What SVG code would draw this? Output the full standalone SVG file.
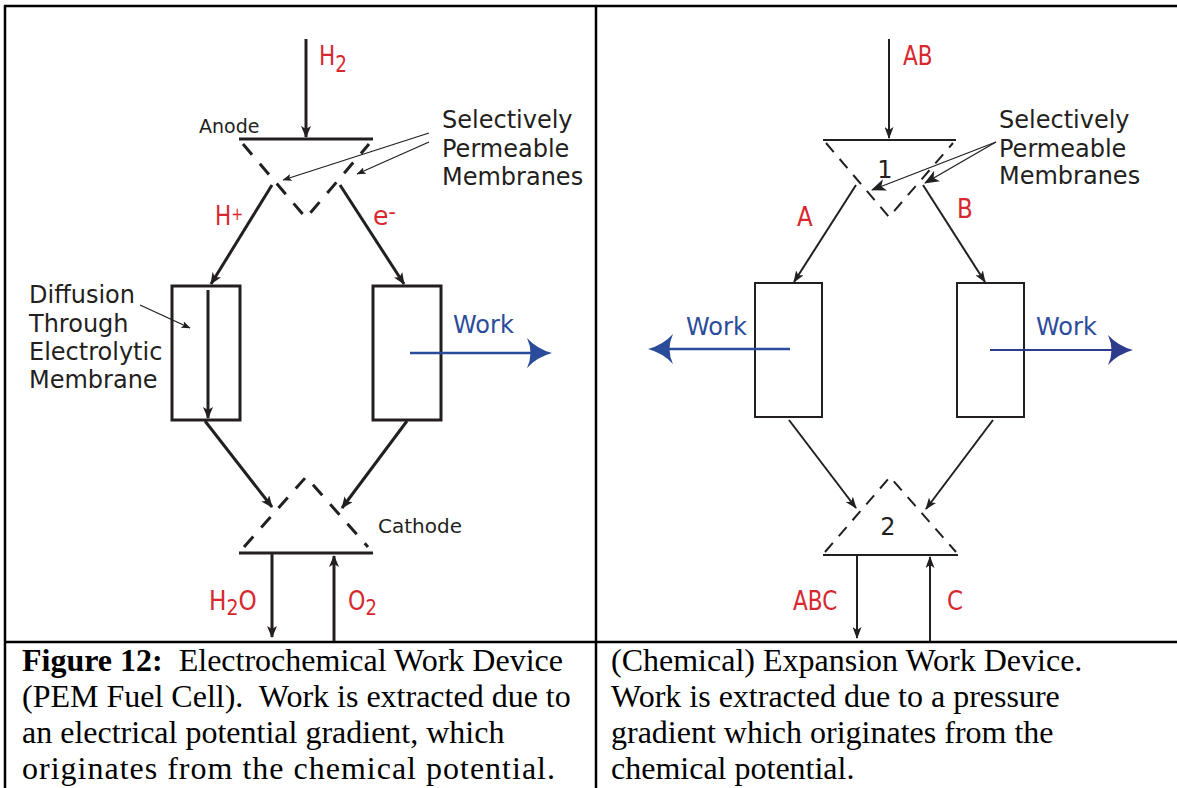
<svg xmlns="http://www.w3.org/2000/svg" width="1177" height="788" viewBox="0 0 1177 788">
<style>
.frame{fill:none;stroke:#000;stroke-width:2.5}
.thk{stroke:#231f20;stroke-width:3;fill:none}
.thn{stroke:#231f20;stroke-width:2;fill:none}
.ptr{stroke:#231f20;stroke-width:1.3;fill:none}
.dashL{stroke:#231f20;stroke-width:3;fill:none;stroke-dasharray:14 12}
.dashR{stroke:#231f20;stroke-width:2;fill:none;stroke-dasharray:12 9}
.wk{stroke:#2b4c9b;stroke-width:2.5;fill:none}
.wk2{stroke:#2e3a8c;stroke-width:2;fill:none}
.lbl{font-family:"DejaVu Sans",sans-serif;fill:#231f20}
.red{font-family:"DejaVu Sans",sans-serif;fill:#d7282f;font-size:27px}
.blue{font-family:"DejaVu Sans",sans-serif;fill:#2b4c9b;font-size:24px}
.cap{font-family:"Liberation Serif","Times New Roman",serif;font-size:32px;fill:#000}
</style>
<defs>
<marker id="ahL" viewBox="0 0 12 10" refX="11" refY="5" markerWidth="12" markerHeight="10" orient="auto" markerUnits="userSpaceOnUse"><path d="M0,0 L12,5 L0,10 L3,5 z" fill="#231f20"/></marker>
<marker id="ahR" viewBox="0 0 12 9" refX="11" refY="4.5" markerWidth="12" markerHeight="9" orient="auto" markerUnits="userSpaceOnUse"><path d="M0,0 L12,4.5 L0,9 L3,4.5 z" fill="#231f20"/></marker>
<marker id="ahP" viewBox="0 0 9 7" refX="8.5" refY="3.5" markerWidth="9" markerHeight="7" orient="auto" markerUnits="userSpaceOnUse"><path d="M0,0 L9,3.5 L0,7 L2,3.5 z" fill="#231f20"/></marker>
<marker id="ahP2" viewBox="0 0 15 12" refX="14" refY="6" markerWidth="15" markerHeight="12" orient="auto" markerUnits="userSpaceOnUse"><path d="M0,0 L15,6 L0,12 L4,6 z" fill="#231f20"/></marker>
<marker id="ahW" viewBox="0 0 25 30" refX="13" refY="15" markerWidth="25" markerHeight="30" orient="auto" markerUnits="userSpaceOnUse"><path d="M0,0 Q10,11 25,15 Q10,19 0,30 Q7,15 0,0 z" fill="#2b4c9b"/></marker>
<marker id="ahW2" viewBox="0 0 25 30" refX="13" refY="15" markerWidth="25" markerHeight="30" orient="auto" markerUnits="userSpaceOnUse"><path d="M0,0 Q10,11 25,15 Q10,19 0,30 Q7,15 0,0 z" fill="#2e3a8c"/></marker>
</defs>

<g id="frame">
<line class="frame" x1="4" y1="6" x2="1177" y2="6"/>
<line class="frame" x1="5" y1="5" x2="5" y2="788"/>
<line class="frame" x1="596" y1="6" x2="596" y2="788"/>
<line class="frame" x1="4" y1="642" x2="1177" y2="642"/>
</g>

<!-- Left panel nodes -->
<g id="left-anode">
<line class="thk" x1="239" y1="139" x2="373" y2="139"/>
<path class="dashL" d="M243,144 L306,218 L369,144"/>
<text class="lbl" x="199" y="133" font-size="19">Anode</text>
</g>
<g id="left-membrane-label">
<text class="lbl" font-size="24"><tspan x="442" y="128">Selectively</tspan><tspan x="442" y="157">Permeable</tspan><tspan x="442" y="185">Membranes</tspan></text>
</g>
<g id="left-electrolyte">
<rect class="thk" x="172" y="286" width="68" height="134"/>
</g>
<g id="left-load">
<rect class="thk" x="373" y="286" width="68" height="134"/>
</g>
<g id="left-diffusion-label">
<text class="lbl" font-size="24"><tspan x="29" y="303">Diffusion</tspan><tspan x="29" y="332">Through</tspan><tspan x="29" y="360">Electrolytic</tspan><tspan x="29" y="388">Membrane</tspan></text>
</g>
<g id="left-cathode">
<path class="dashL" d="M244,547 L306,477 L368,547"/>
<line class="thk" x1="239" y1="553" x2="373" y2="553"/>
<text class="lbl" x="378" y="533" font-size="20">Cathode</text>
</g>
<g id="left-labels">
<text class="red" transform="translate(319,65) scale(0.8,1)">H<tspan font-size="23" dy="7">2</tspan></text>
<text class="red" transform="translate(215,225) scale(0.8,1)">H<tspan font-size="18" dy="-5">+</tspan></text>
<text class="red" transform="translate(373,225) scale(0.93,1)">e<tspan font-size="22" dy="-6">-</tspan></text>
<text class="blue" x="453" y="333">Work</text>
<text class="red" transform="translate(209,610) scale(0.86,1)">H<tspan font-size="22" dy="5">2</tspan><tspan dy="-5">O</tspan></text>
<text class="red" transform="translate(348,610) scale(0.82,1)">O<tspan font-size="22" dy="5">2</tspan></text>
</g>

<!-- Right panel nodes -->
<g id="right-chamber1">
<line class="thn" x1="823" y1="140" x2="956" y2="140" stroke-width="2.5"/>
<path class="dashR" d="M826,143 L889,217 L953,143"/>
<text class="lbl" x="885" y="178" font-size="24" text-anchor="middle">1</text>
</g>
<g id="right-membrane-label">
<text class="lbl" font-size="24"><tspan x="999" y="128">Selectively</tspan><tspan x="999" y="157">Permeable</tspan><tspan x="999" y="184">Membranes</tspan></text>
</g>
<g id="right-expander-a">
<rect class="thn" x="755" y="283" width="67" height="134"/>
</g>
<g id="right-expander-b">
<rect class="thn" x="957" y="283" width="67" height="134"/>
</g>
<g id="right-chamber2">
<path class="dashR" d="M825,552 L890,477 L956,552"/>
<line class="thn" x1="823" y1="555" x2="958" y2="555" stroke-width="2.5"/>
<text class="lbl" x="888" y="535" font-size="24" text-anchor="middle">2</text>
</g>
<g id="right-labels">
<text class="red" transform="translate(903,65) scale(0.8,1)">AB</text>
<text class="red" transform="translate(797,226) scale(0.85,1)">A</text>
<text class="red" transform="translate(957,218) scale(0.85,1)">B</text>
<text class="blue" x="686" y="335">Work</text>
<text class="blue" x="1036" y="335">Work</text>
<text class="red" transform="translate(793,610) scale(0.8,1)">ABC</text>
<text class="red" transform="translate(947,610) scale(0.85,1)">C</text>
</g>

<!-- Connectors -->
<g id="connectors">
<line class="thk" x1="306" y1="39" x2="306" y2="137" marker-end="url(#ahL)"/>
<line class="ptr" x1="429" y1="133" x2="283" y2="180" marker-end="url(#ahP)"/>
<line class="ptr" x1="429" y1="142" x2="357" y2="174" marker-end="url(#ahP)"/>
<line class="thk" x1="272" y1="185" x2="211" y2="284" marker-end="url(#ahL)"/>
<line class="thk" x1="340" y1="185" x2="404" y2="284" marker-end="url(#ahL)"/>
<line class="thk" x1="208" y1="290" x2="208" y2="418" marker-end="url(#ahL)"/>
<line class="ptr" x1="140" y1="305" x2="190" y2="328" marker-end="url(#ahP)"/>
<line class="wk" x1="410" y1="353" x2="540" y2="353" marker-end="url(#ahW)"/>
<line class="thk" x1="205" y1="421" x2="272" y2="507" marker-end="url(#ahL)"/>
<line class="thk" x1="407" y1="421" x2="342" y2="508" marker-end="url(#ahL)"/>
<line class="thk" x1="272" y1="554" x2="272" y2="637" marker-end="url(#ahL)"/>
<line class="thk" x1="334" y1="641" x2="334" y2="556" marker-end="url(#ahL)"/>

<line class="thn" x1="889" y1="39" x2="889" y2="138" marker-end="url(#ahR)"/>
<line class="ptr" x1="996" y1="142" x2="872" y2="190" stroke-width="1.5" marker-end="url(#ahP2)"/>
<line class="ptr" x1="996" y1="142" x2="925" y2="183" stroke-width="1.5" marker-end="url(#ahP2)"/>
<line class="thn" x1="856" y1="185" x2="794" y2="282" marker-end="url(#ahR)"/>
<line class="thn" x1="923" y1="185" x2="985" y2="282" marker-end="url(#ahR)"/>
<line class="wk" x1="790" y1="349" x2="660" y2="349" marker-end="url(#ahW)"/>
<line class="wk2" x1="990" y1="350" x2="1121" y2="350" marker-end="url(#ahW2)"/>
<line class="thn" x1="789" y1="420" x2="856" y2="508" marker-end="url(#ahR)"/>
<line class="thn" x1="993" y1="420" x2="926" y2="509" marker-end="url(#ahR)"/>
<line class="thn" x1="857" y1="555" x2="857" y2="638" marker-end="url(#ahR)"/>
<line class="thn" x1="930" y1="641" x2="930" y2="557" marker-end="url(#ahR)"/>
</g>

<g id="captions">
<text class="cap" xml:space="preserve"><tspan x="22" y="671"><tspan font-weight="bold">Figure 12:</tspan>  Electrochemical Work Device</tspan><tspan x="22" y="707">(PEM Fuel Cell).  Work is extracted due to</tspan><tspan x="22" y="743">an electrical potential gradient, which</tspan></text>
<text class="cap" x="22" y="779" textLength="533" lengthAdjust="spacing">originates from the chemical potential.</text>
<text class="cap"><tspan x="611" y="671">(Chemical) Expansion Work Device.</tspan><tspan x="611" y="707">Work is extracted due to a pressure</tspan><tspan x="611" y="743">gradient which originates from the</tspan><tspan x="611" y="779">chemical potential.</tspan></text>
</g>
</svg>
